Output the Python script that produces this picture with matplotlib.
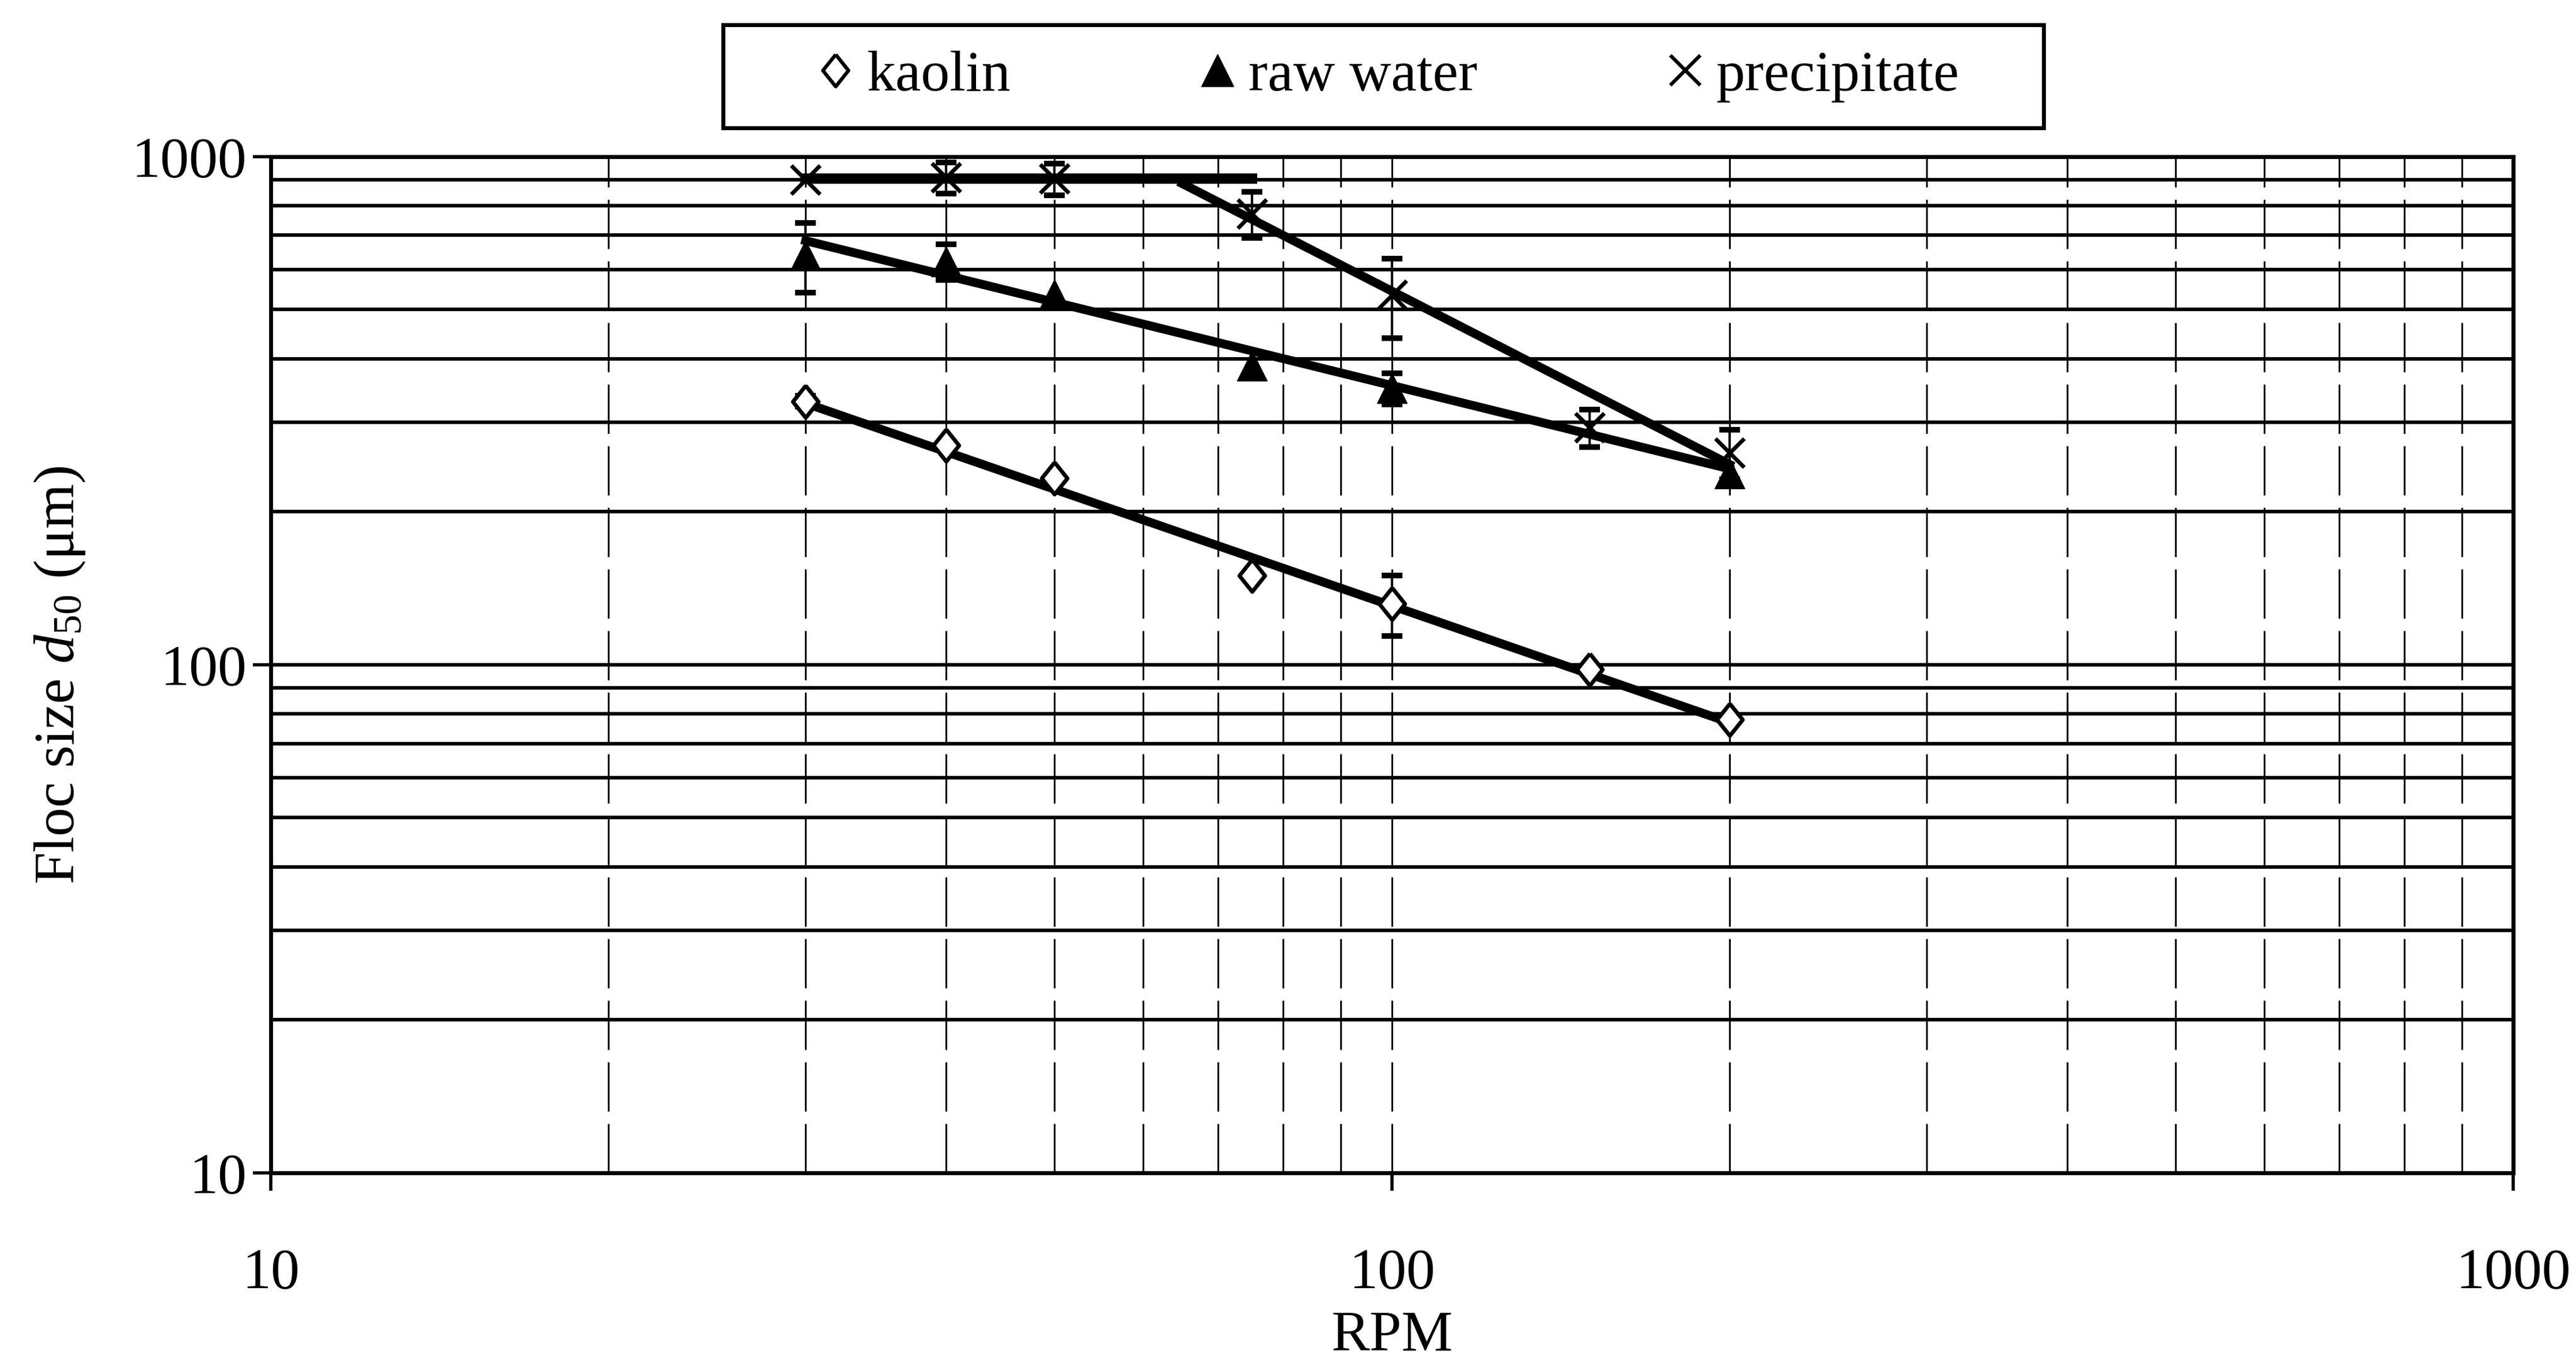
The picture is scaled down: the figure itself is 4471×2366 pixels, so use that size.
import numpy as np
import matplotlib.pyplot as plt
from matplotlib.lines import Line2D
from matplotlib.patches import Rectangle
from matplotlib.ticker import FuncFormatter, NullFormatter

plt.rcParams['font.family'] = ['Liberation Serif', 'DejaVu Serif']
plt.rcParams['mathtext.fontset'] = 'custom'
plt.rcParams['mathtext.rm'] = 'Liberation Serif'
plt.rcParams['mathtext.it'] = 'Liberation Serif:italic'

# measured floc sizes (um) against stirring speed
kaolin_rpm = np.array([30, 40, 50, 75, 100, 150, 200])
kaolin_d50 = np.array([330, 270, 233, 150, 132, 98, 78])
kaolin_err = np.array([8, 0, 0, 0, 18, 0, 0])

raw_rpm = np.array([30, 40, 50, 75, 100, 200])
raw_d50 = np.array([640, 622, 535, 388, 350, 238])
raw_err = np.array([100, 50, 0, 0, 25, 0])

prec_rpm = np.array([30, 40, 50, 75, 100, 150, 200])
prec_d50 = np.array([900, 910, 905, 772, 534, 293, 261])
prec_err = np.array([0, 65, 65, 80, 95, 25, 29])

# power-law trend lines (end points)
kaolin_fit_rpm = [30, 200]
kaolin_fit_d50 = [327, 77]
raw_fit_rpm = [30, 200]
raw_fit_d50 = [683, 243]
prec_flat_rpm = [30, 75]
prec_flat_d50 = [905, 905]
prec_fit_rpm = [65, 200]
prec_fit_d50 = [885, 248]

legend_labels = ['kaolin', 'raw water', 'precipitate']

diamond = [(0, 1), (0.8, 0), (0, -1), (-0.8, 0), (0, 1)]
FS = 72

fig = plt.figure(figsize=(44.71, 23.66), dpi=100)
ax = fig.add_axes([0.1051, 0.1395, 0.8705, 0.7456])
ax.set_xscale('log')
ax.set_yscale('log')
ax.set_xlim(10, 1000)
ax.set_ylim(10, 1000)
ax.set_axisbelow(True)

ax.xaxis.grid(True, which='both', color='black', lw=2.2, ls=(0, (28, 7)))
ax.yaxis.grid(True, which='both', color='black', lw=4.5, ls='-')

# trend lines
lw_fit = 11
ax.plot(kaolin_fit_rpm, kaolin_fit_d50, color='black', lw=lw_fit, zorder=3)
ax.plot(raw_fit_rpm, raw_fit_d50, color='black', lw=lw_fit, zorder=3)
ax.plot(prec_flat_rpm, prec_flat_d50, color='black', lw=lw_fit + 2, zorder=3)
ax.plot(prec_fit_rpm, prec_fit_d50, color='black', lw=lw_fit, zorder=3)

# error bars only where a spread was measured
for r, d, e in [(kaolin_rpm, kaolin_d50, kaolin_err),
                (raw_rpm, raw_d50, raw_err),
                (prec_rpm, prec_d50, prec_err)]:
    m = e > 0
    ax.errorbar(r[m], d[m], yerr=e[m], fmt='none', ecolor='black',
                elinewidth=3, capsize=13, capthick=7, zorder=4)

ax.plot(kaolin_rpm, kaolin_d50, ls='none', marker=diamond, ms=40,
        mfc='white', mec='black', mew=5, zorder=5)
ax.plot(raw_rpm, raw_d50, ls='none', marker='^', ms=38,
        mfc='black', mec='black', zorder=5)
ax.plot(prec_rpm, prec_d50, ls='none', marker='x', ms=36,
        mec='black', mew=5, zorder=5)

fmt = FuncFormatter(lambda v, p: f'{v:g}')
ax.xaxis.set_major_formatter(fmt)
ax.yaxis.set_major_formatter(fmt)
ax.xaxis.set_minor_formatter(NullFormatter())
ax.yaxis.set_minor_formatter(NullFormatter())
ax.tick_params(which='major', direction='out', length=22, width=4,
               labelsize=FS, color='black')
ax.tick_params(axis='x', which='major', pad=72)
ax.tick_params(axis='y', which='major', pad=8)
ax.tick_params(which='minor', length=0)

for s in ax.spines.values():
    s.set_linewidth(5)
    s.set_color('black')

ax.set_xlabel('RPM', fontsize=FS)
ax.xaxis.set_label_coords(0.5, -0.135)
ax.set_ylabel('Floc size $d_{50}$ (μm)', fontsize=FS)
ax.yaxis.set_label_coords(-0.082, 0.49)

# legend box above the plot
ax.add_patch(Rectangle((0.2017, 1.0283), 0.589, 0.1015, transform=ax.transAxes,
                       fill=False, edgecolor='black', lw=5, clip_on=False))
handles = [
    Line2D([], [], ls='none', marker=diamond, ms=40, mfc='white',
           mec='black', mew=4.5),
    Line2D([], [], ls='none', marker='^', ms=40, mfc='black', mec='black'),
    Line2D([], [], ls='none', marker='x', ms=38, mec='black', mew=4.5),
]
ax.legend(handles, legend_labels, loc='center', bbox_to_anchor=(0.4985, 1.079),
          ncol=3, frameon=False, fontsize=FS, handlelength=0.6,
          handletextpad=0.24, columnspacing=3.3, borderaxespad=0)

fig.savefig('out.png', dpi=100, facecolor='white')
